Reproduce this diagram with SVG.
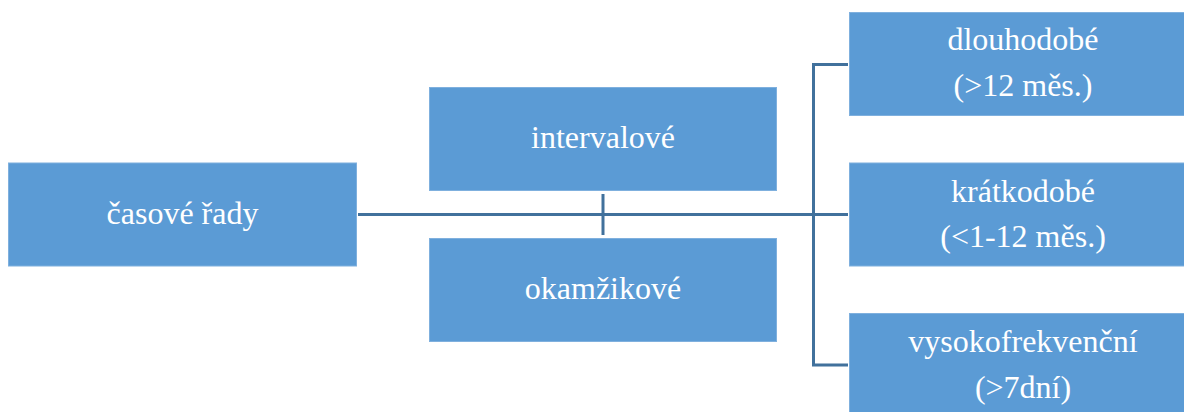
<svg xmlns="http://www.w3.org/2000/svg" width="1184" height="412" viewBox="0 0 1184 412">
  <style>
    .box { fill: #5B9BD5; stroke: #7FB0DE; stroke-width: 1; }
    .lbl { font-family: "Liberation Serif", "Times New Roman", serif; font-size: 32px; fill: #FFFFFF; text-anchor: middle; }
    .conn { fill: none; stroke: #41719C; stroke-width: 3; }
  </style>
  <rect width="1184" height="412" fill="#FFFFFF"/>

  <!-- connector lines: trunk, tick between the middle pair, bracket to the right column -->
  <g id="connectors">
    <path class="conn" d="M358 214.5 H848"/>
    <path class="conn" d="M603 194 V235"/>
    <path class="conn" d="M848 64.5 H813.5 V365 H848"/>
  </g>

  <g id="node-casove-rady">
    <rect class="box" x="8.5" y="163" width="348" height="103"/>
    <text class="lbl" x="182.5" y="224">časové řady</text>
  </g>

  <g id="node-intervalove">
    <rect class="box" x="429.5" y="87.5" width="347" height="103"/>
    <text class="lbl" x="603" y="148">intervalové</text>
  </g>

  <g id="node-okamzikove">
    <rect class="box" x="429.5" y="238.5" width="347" height="103"/>
    <text class="lbl" x="603" y="299">okamžikové</text>
  </g>

  <g id="node-dlouhodobe">
    <rect class="box" x="849.5" y="12.5" width="348" height="103"/>
    <text class="lbl" x="1023" y="50">dlouhodobé</text>
    <text class="lbl" x="1023" y="96">(&gt;12 měs.)</text>
  </g>

  <g id="node-kratkodobe">
    <rect class="box" x="849.5" y="163" width="348" height="103"/>
    <text class="lbl" x="1023" y="202">krátkodobé</text>
    <text class="lbl" x="1023" y="247">(&lt;1-12 měs.)</text>
  </g>

  <g id="node-vysokofrekvencni">
    <rect class="box" x="849.5" y="313.5" width="348" height="103"/>
    <text class="lbl" x="1023" y="352">vysokofrekvenční</text>
    <text class="lbl" x="1023" y="398">(&gt;7dní)</text>
  </g>
</svg>
